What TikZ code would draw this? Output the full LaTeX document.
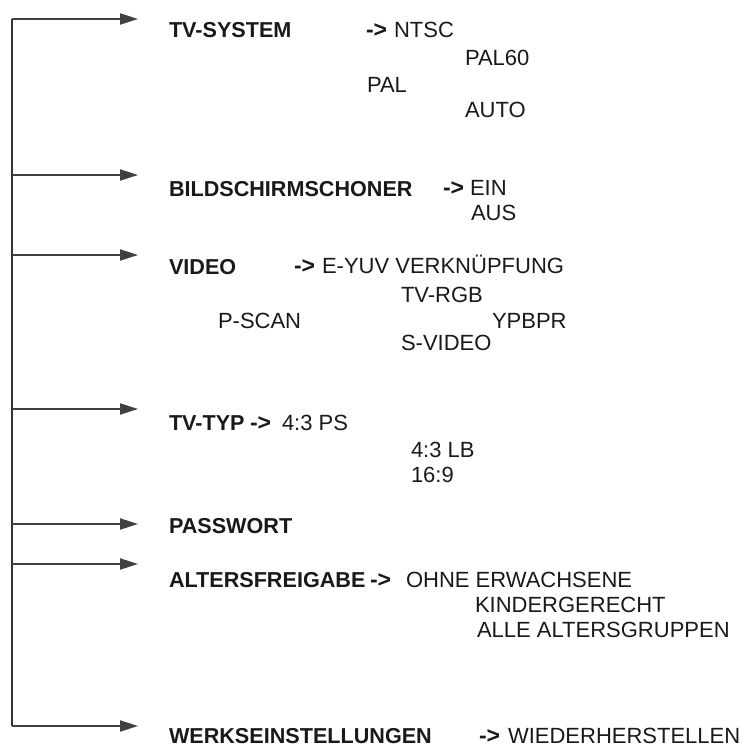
\documentclass[tikz,border=0pt]{standalone}
\usepackage{fontspec}
\setmainfont{Liberation Sans}
\usetikzlibrary{arrows.meta}
\begin{document}
\begin{tikzpicture}[x=1pt,y=1pt,
  txt/.style={anchor=base west,inner sep=0pt,outer sep=0pt,text=black!90,font=\fontsize{22}{24}\selectfont},
  head/.style={txt,font=\fontsize{21.6}{24}\selectfont\bfseries},
  arr/.style={txt,font=\fontsize{23}{24}\selectfont\bfseries},
  spine/.style={line width=2pt,draw=black!80},
  branch/.style={line width=2pt,draw=black!75,-{Triangle[length=18pt,width=11pt]}}]
\useasboundingbox (0,0) rectangle (745,-748);
% spine coordinates and arrow ends
\foreach \i/\y in {1/19,2/175,3/255,4/409,5/524,6/564,7/726}{
  \coordinate (s\i) at (12,-\y);
  \coordinate (e\i) at (138,-\y);
}
\draw[spine] (s1) -- (s7);
\foreach \i in {1,...,7}{ \draw[branch] (s\i) -- (e\i); }
% TV-SYSTEM
\node[head] (tvsys) at (169,-37) {TV-SYSTEM};
\node[arr] (a1) at (366,-37) {->};
\node[txt] (ntsc) at (394,-37) {NTSC};
\node[txt] (pal60) at (465,-65) {PAL60};
\node[txt] (pal) at (367,-92) {PAL};
\node[txt] (auto) at (465,-117) {AUTO};
% BILDSCHIRMSCHONER
\node[head] (bild) at (169,-196) {BILDSCHIRMSCHONER};
\node[arr] (a2) at (443,-195) {->};
\node[txt] (ein) at (470,-195) {EIN};
\node[txt] (aus) at (471,-220) {AUS};
% VIDEO
\node[head] (video) at (169,-274) {VIDEO};
\node[arr] (a3) at (294,-273) {->};
\node[txt] (eyuv) at (322,-273) {E-YUV VERKNÜPFUNG};
\node[txt] (tvrgb) at (401,-302) {TV-RGB};
\node[txt] (pscan) at (218,-328) {P-SCAN};
\node[txt] (ypbpr) at (492,-328) {YPBPR};
\node[txt] (svideo) at (401,-350) {S-VIDEO};
% TV-TYP
\node[head] (tvtyp) at (169,-430) {TV-TYP};
\node[arr] (a4) at (250,-430) {->};
\node[txt] (ps) at (282,-430) {4:3 PS};
\node[txt] (lb) at (411,-457) {4:3 LB};
\node[txt] (wide) at (411,-482) {16:9};
% PASSWORT
\node[head] (pw) at (169,-533) {PASSWORT};
% ALTERSFREIGABE
\node[head] (alter) at (169,-587) {ALTERSFREIGABE};
\node[arr] (a6) at (370,-587) {->};
\node[txt] (ohne) at (406,-587) {OHNE ERWACHSENE};
\node[txt] (kind) at (475,-612) {KINDERGERECHT};
\node[txt] (alle) at (477,-637) {ALLE ALTERSGRUPPEN};
% WERKSEINSTELLUNGEN
\node[head] (werk) at (169,-743) {WERKSEINSTELLUNGEN};
\node[arr] (a7) at (479,-743) {->};
\node[txt] (wieder) at (508,-743) {WIEDERHERSTELLEN};
\end{tikzpicture}
\end{document}
